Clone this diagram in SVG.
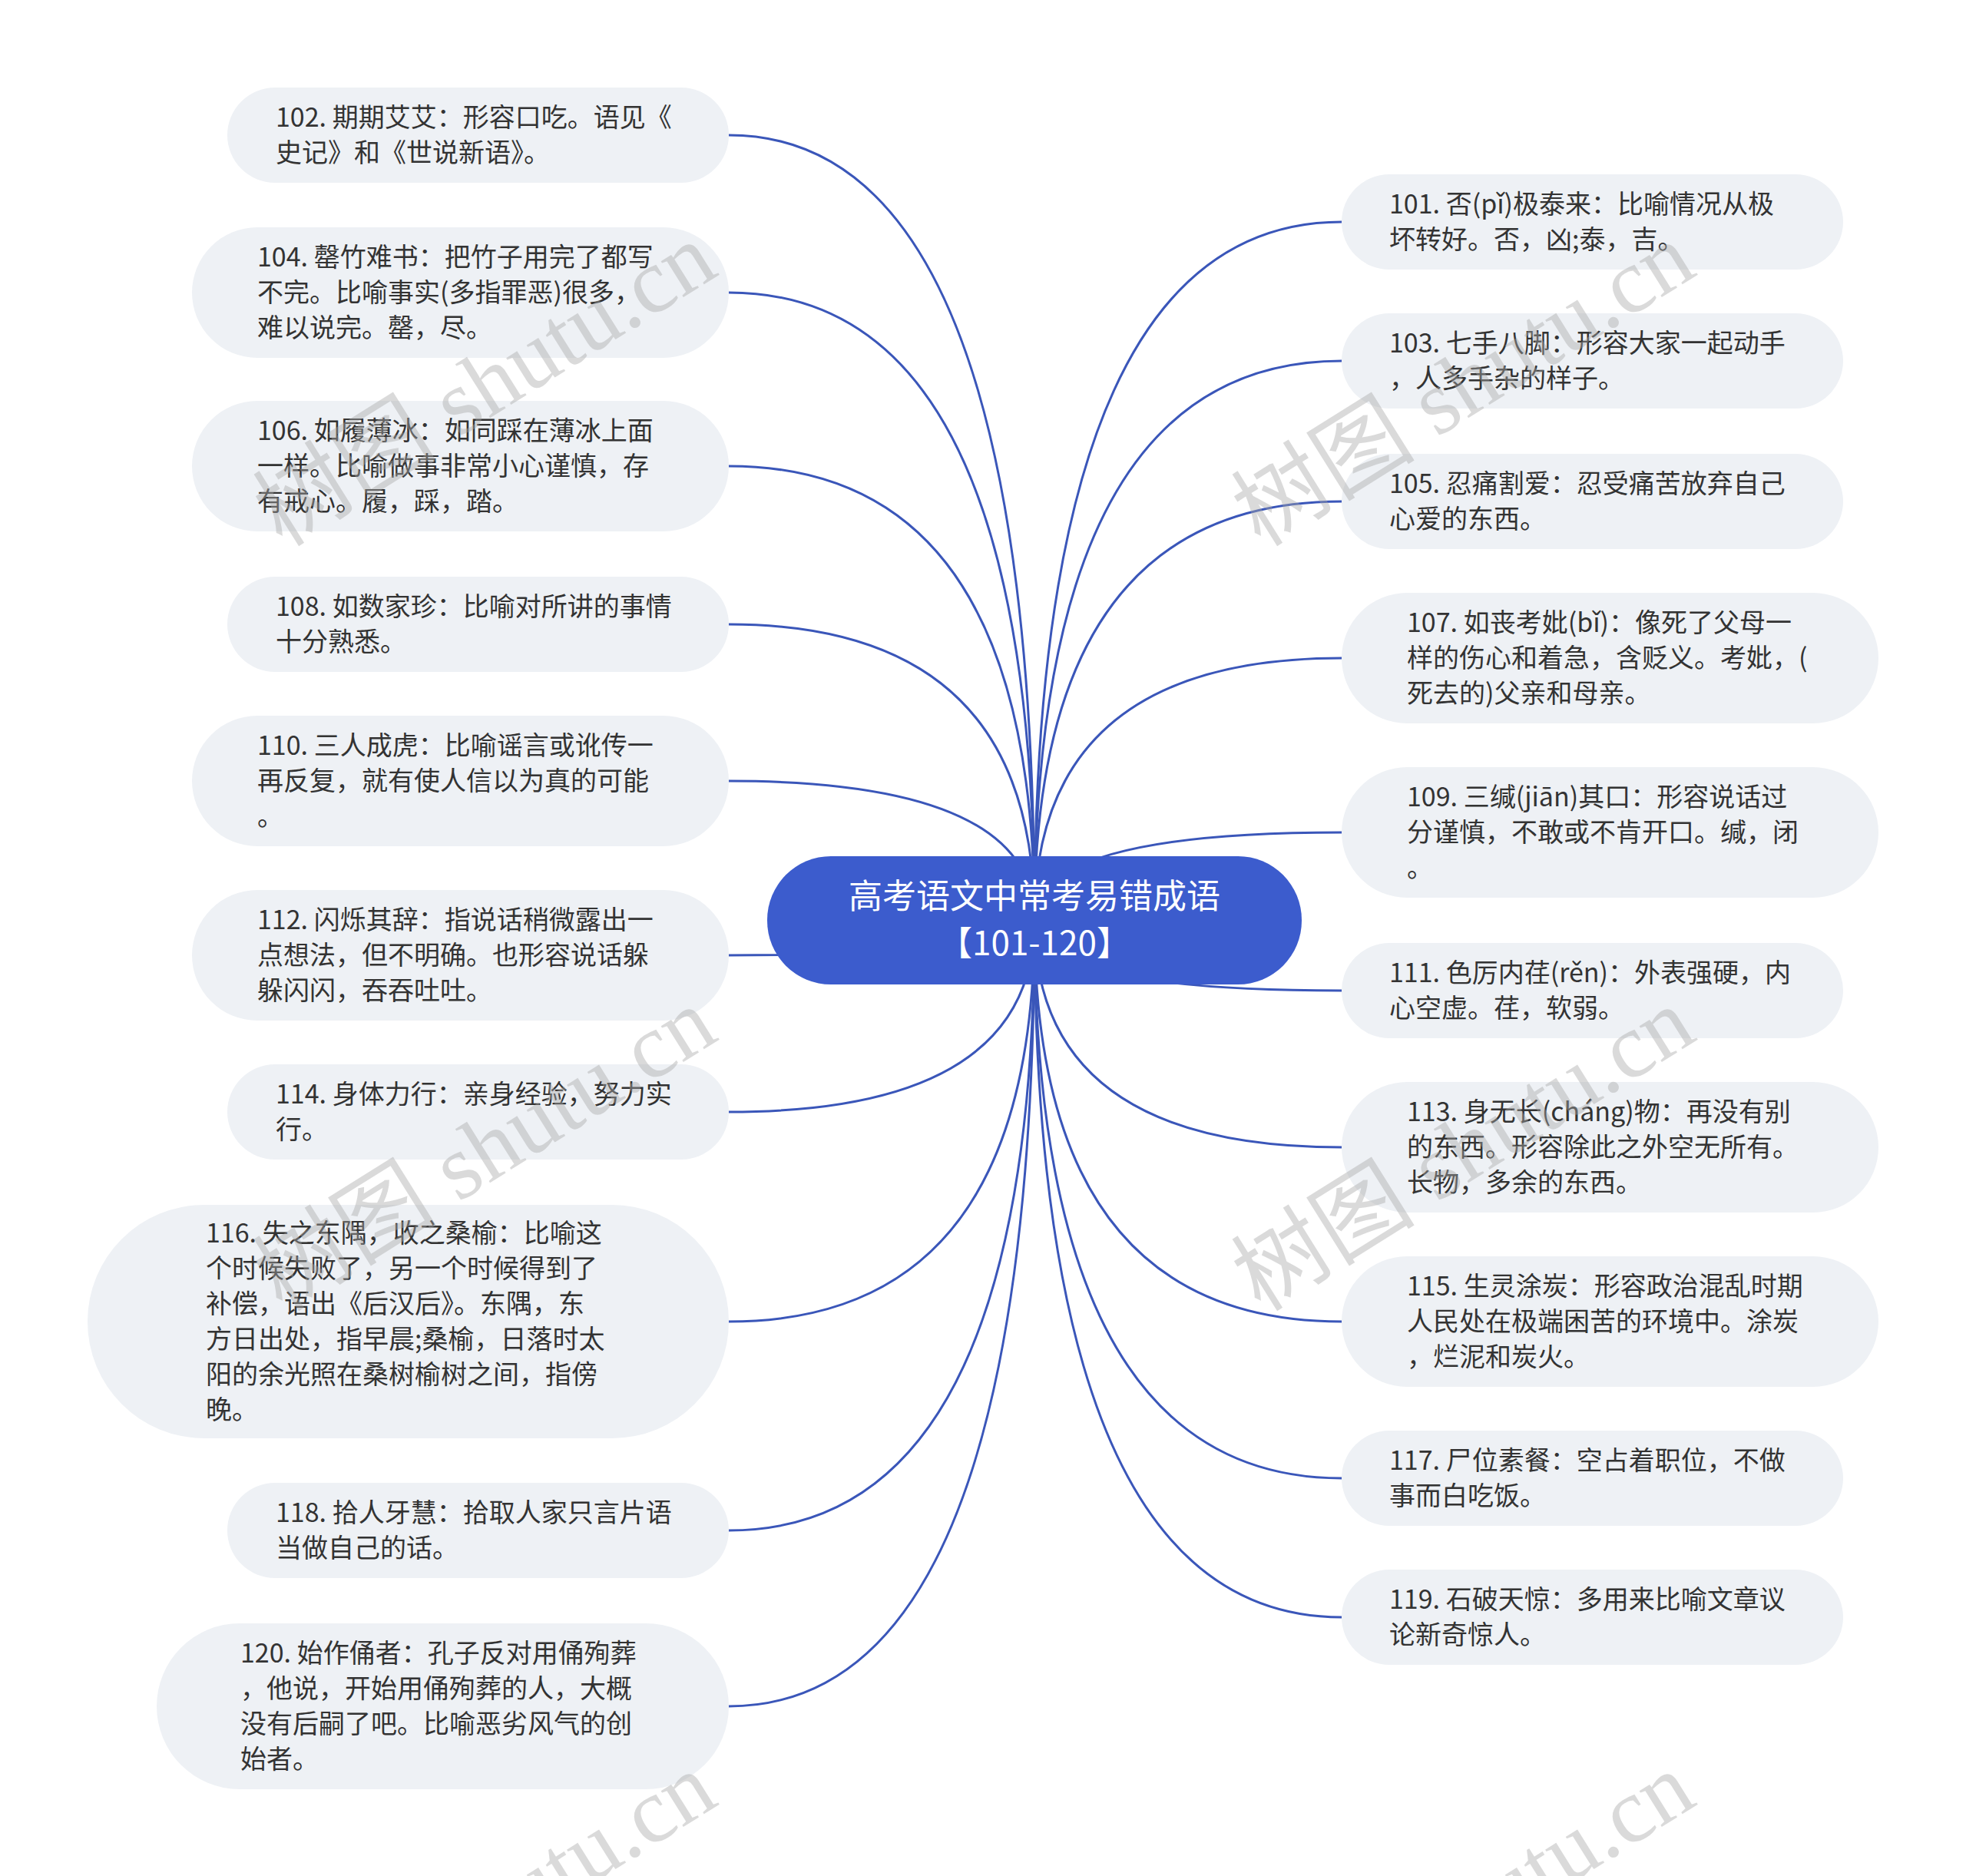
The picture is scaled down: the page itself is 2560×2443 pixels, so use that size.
<svg xmlns="http://www.w3.org/2000/svg" width="2560" height="2443" viewBox="0 0 2560 2443">
<style>
.node rect{fill:#EEF1F5;}
.node text{font-family:"Noto Sans CJK SC","Noto Sans",sans-serif;font-size:34px;fill:#333333;}
.conn path{fill:none;stroke:#3A56B9;stroke-width:3;}
.root rect{fill:#3C5CCD;}
.root text{font-family:"Noto Sans CJK SC","Noto Sans",sans-serif;font-size:44px;fill:#FFFFFF;text-anchor:middle;}
.wm{font-family:"Liberation Serif","Noto Sans CJK SC",serif;font-size:120px;fill:#A8A8A8;fill-opacity:0.42;text-anchor:middle;}
</style>
<rect width="2560" height="2443" fill="#FFFFFF"/>
<g id="connectors" class="conn">
<path d="M949,176 Q1347,176 1347,1198"/>
<path d="M949,381 Q1347,381 1347,1198"/>
<path d="M949,607 Q1347,607 1347,1198"/>
<path d="M949,813 Q1347,813 1347,1198"/>
<path d="M949,1017 Q1347,1017 1347,1198"/>
<path d="M949,1244 Q1347,1244 1347,1198"/>
<path d="M949,1448 Q1347,1448 1347,1198"/>
<path d="M949,1721 Q1347,1721 1347,1198"/>
<path d="M949,1993 Q1347,1993 1347,1198"/>
<path d="M949,2222 Q1347,2222 1347,1198"/>
<path d="M1747,289 Q1347,289 1347,1198"/>
<path d="M1747,470 Q1347,470 1347,1198"/>
<path d="M1747,653 Q1347,653 1347,1198"/>
<path d="M1747,857 Q1347,857 1347,1198"/>
<path d="M1747,1084 Q1347,1084 1347,1198"/>
<path d="M1747,1290 Q1347,1290 1347,1198"/>
<path d="M1747,1494 Q1347,1494 1347,1198"/>
<path d="M1747,1721 Q1347,1721 1347,1198"/>
<path d="M1747,1925 Q1347,1925 1347,1198"/>
<path d="M1747,2106 Q1347,2106 1347,1198"/>
</g>
<g id="n102" class="node"><rect x="296" y="114" width="653" height="124" rx="62"/>
<text x="359" y="165">102. 期期艾艾：形容口吃。语见《</text><text x="359" y="211">史记》和《世说新语》。</text></g>
<g id="n104" class="node"><rect x="250" y="296" width="699" height="170" rx="85"/>
<text x="335" y="347">104. 罄竹难书：把竹子用完了都写</text><text x="335" y="393">不完。比喻事实(多指罪恶)很多，</text><text x="335" y="439">难以说完。罄，尽。</text></g>
<g id="n106" class="node"><rect x="250" y="522" width="699" height="170" rx="85"/>
<text x="335" y="573">106. 如履薄冰：如同踩在薄冰上面</text><text x="335" y="619">一样。比喻做事非常小心谨慎，存</text><text x="335" y="665">有戒心。履，踩，踏。</text></g>
<g id="n108" class="node"><rect x="296" y="751" width="653" height="124" rx="62"/>
<text x="359" y="802">108. 如数家珍：比喻对所讲的事情</text><text x="359" y="848">十分熟悉。</text></g>
<g id="n110" class="node"><rect x="250" y="932" width="699" height="170" rx="85"/>
<text x="335" y="983">110. 三人成虎：比喻谣言或讹传一</text><text x="335" y="1029">再反复，就有使人信以为真的可能</text><text x="335" y="1075">。</text></g>
<g id="n112" class="node"><rect x="250" y="1159" width="699" height="170" rx="85"/>
<text x="335" y="1210">112. 闪烁其辞：指说话稍微露出一</text><text x="335" y="1256">点想法，但不明确。也形容说话躲</text><text x="335" y="1302">躲闪闪，吞吞吐吐。</text></g>
<g id="n114" class="node"><rect x="296" y="1386" width="653" height="124" rx="62"/>
<text x="359" y="1437">114. 身体力行：亲身经验，努力实</text><text x="359" y="1483">行。</text></g>
<g id="n116" class="node"><rect x="114" y="1569" width="835" height="304" rx="152"/>
<text x="268" y="1618">116. 失之东隅，收之桑榆：比喻这</text><text x="268" y="1664">个时候失败了，另一个时候得到了</text><text x="268" y="1710">补偿，语出《后汉后》。东隅，东</text><text x="268" y="1756">方日出处，指早晨;桑榆，日落时太</text><text x="268" y="1802">阳的余光照在桑树榆树之间，指傍</text><text x="268" y="1848">晚。</text></g>
<g id="n118" class="node"><rect x="296" y="1931" width="653" height="124" rx="62"/>
<text x="359" y="1982">118. 拾人牙慧：拾取人家只言片语</text><text x="359" y="2028">当做自己的话。</text></g>
<g id="n120" class="node"><rect x="204" y="2114" width="745" height="216" rx="108"/>
<text x="313" y="2165">120. 始作俑者：孔子反对用俑殉葬</text><text x="313" y="2211">，他说，开始用俑殉葬的人，大概</text><text x="313" y="2257">没有后嗣了吧。比喻恶劣风气的创</text><text x="313" y="2303">始者。</text></g>
<g id="n101" class="node"><rect x="1747" y="227" width="653" height="124" rx="62"/>
<text x="1809" y="278">101. 否(pǐ)极泰来：比喻情况从极</text><text x="1809" y="324">坏转好。否，凶;泰，吉。</text></g>
<g id="n103" class="node"><rect x="1747" y="408" width="653" height="124" rx="62"/>
<text x="1809" y="459">103. 七手八脚：形容大家一起动手</text><text x="1809" y="505">，人多手杂的样子。</text></g>
<g id="n105" class="node"><rect x="1747" y="591" width="653" height="124" rx="62"/>
<text x="1809" y="642">105. 忍痛割爱：忍受痛苦放弃自己</text><text x="1809" y="688">心爱的东西。</text></g>
<g id="n107" class="node"><rect x="1747" y="772" width="699" height="170" rx="85"/>
<text x="1832" y="823">107. 如丧考妣(bǐ)：像死了父母一</text><text x="1832" y="869">样的伤心和着急，含贬义。考妣，(</text><text x="1832" y="915">死去的)父亲和母亲。</text></g>
<g id="n109" class="node"><rect x="1747" y="999" width="699" height="170" rx="85"/>
<text x="1832" y="1050">109. 三缄(jiān)其口：形容说话过</text><text x="1832" y="1096">分谨慎，不敢或不肯开口。缄，闭</text><text x="1832" y="1142">。</text></g>
<g id="n111" class="node"><rect x="1747" y="1228" width="653" height="124" rx="62"/>
<text x="1809" y="1279">111. 色厉内荏(rěn)：外表强硬，内</text><text x="1809" y="1325">心空虚。荏，软弱。</text></g>
<g id="n113" class="node"><rect x="1747" y="1409" width="699" height="170" rx="85"/>
<text x="1832" y="1460">113. 身无长(cháng)物：再没有别</text><text x="1832" y="1506">的东西。形容除此之外空无所有。</text><text x="1832" y="1552">长物，多余的东西。</text></g>
<g id="n115" class="node"><rect x="1747" y="1636" width="699" height="170" rx="85"/>
<text x="1832" y="1687">115. 生灵涂炭：形容政治混乱时期</text><text x="1832" y="1733">人民处在极端困苦的环境中。涂炭</text><text x="1832" y="1779">，烂泥和炭火。</text></g>
<g id="n117" class="node"><rect x="1747" y="1863" width="653" height="124" rx="62"/>
<text x="1809" y="1914">117. 尸位素餐：空占着职位，不做</text><text x="1809" y="1960">事而白吃饭。</text></g>
<g id="n119" class="node"><rect x="1747" y="2044" width="653" height="124" rx="62"/>
<text x="1809" y="2095">119. 石破天惊：多用来比喻文章议</text><text x="1809" y="2141">论新奇惊人。</text></g>
<g id="root" class="root"><rect x="999" y="1115" width="696" height="167" rx="83"/>
<text x="1347" y="1183">高考语文中常考易错成语</text><text x="1347" y="1244">【101-120】</text></g>
<g id="watermark">
<text class="wm" transform="translate(653,535) rotate(-32)">树图 shutu.cn</text>
<text class="wm" transform="translate(1927,535) rotate(-32)">树图 shutu.cn</text>
<text class="wm" transform="translate(653,1531) rotate(-32)">树图 shutu.cn</text>
<text class="wm" transform="translate(1927,1531) rotate(-32)">树图 shutu.cn</text>
<text class="wm" transform="translate(653,2527) rotate(-32)">树图 shutu.cn</text>
<text class="wm" transform="translate(1927,2527) rotate(-32)">树图 shutu.cn</text>
</g>
</svg>
